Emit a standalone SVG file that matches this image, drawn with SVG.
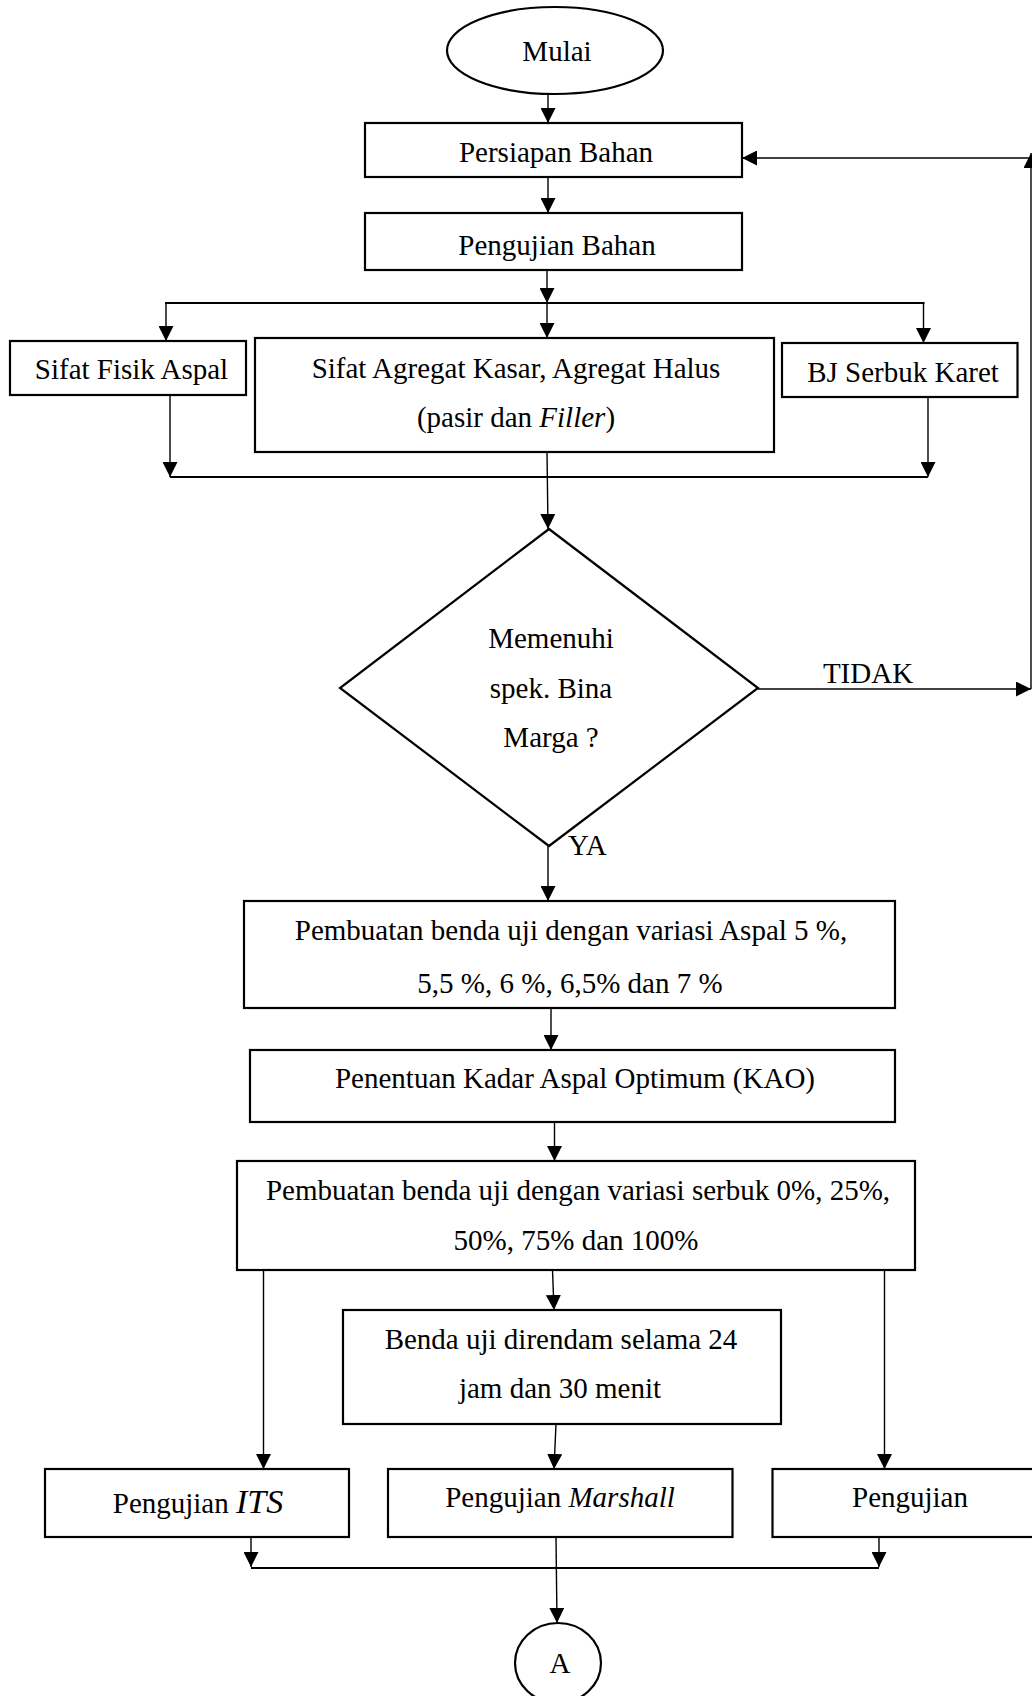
<svg xmlns="http://www.w3.org/2000/svg" width="1032" height="1696" viewBox="0 0 1032 1696">
<defs>
<style>
.box{fill:#fff;stroke:#000;stroke-width:2.2}
.ln{fill:none;stroke:#000;stroke-width:1.4}
.t{font-family:"Liberation Serif","Times New Roman",serif;font-size:29px;fill:#000;text-anchor:middle}
.tl{font-family:"Liberation Serif","Times New Roman",serif;font-size:29px;fill:#000}
</style>
<marker id="ah" markerUnits="userSpaceOnUse" markerWidth="15" markerHeight="15" refX="15" refY="7.5" orient="auto" viewBox="0 0 15 15">
<path d="M0,0 L15,7.5 L0,15 z" fill="#000"/>
</marker>
</defs>
<rect width="1032" height="1696" fill="#fff"/>

<g id="connectors">
<line class="ln" x1="548" y1="94" x2="548" y2="123" marker-end="url(#ah)"/>
<line class="ln" x1="548" y1="177" x2="548" y2="213" marker-end="url(#ah)"/>
<line class="ln" x1="547" y1="270" x2="547" y2="303" marker-end="url(#ah)"/>
<line class="ln" x1="165" y1="303" x2="924.5" y2="303" style="stroke-width:2"/>
<line class="ln" x1="166" y1="303" x2="166" y2="341" marker-end="url(#ah)"/>
<line class="ln" x1="547" y1="303" x2="547" y2="338" marker-end="url(#ah)"/>
<line class="ln" x1="923.5" y1="303" x2="923.5" y2="343" marker-end="url(#ah)"/>
<line class="ln" x1="170" y1="395" x2="170" y2="477" marker-end="url(#ah)"/>
<line class="ln" x1="928" y1="397" x2="928" y2="477" marker-end="url(#ah)"/>
<line class="ln" x1="170" y1="477" x2="928" y2="477" style="stroke-width:2"/>
<line class="ln" x1="547" y1="452" x2="548" y2="529" marker-end="url(#ah)"/>
<line class="ln" x1="758" y1="689" x2="1031" y2="689" marker-end="url(#ah)"/>
<line class="ln" x1="1031" y1="689" x2="1031" y2="153" marker-end="url(#ah)"/>
<line class="ln" x1="1030" y1="158" x2="742" y2="158" marker-end="url(#ah)"/>
<line class="ln" x1="548" y1="846" x2="548" y2="901" marker-end="url(#ah)"/>
<line class="ln" x1="551" y1="1008" x2="551" y2="1050" marker-end="url(#ah)"/>
<line class="ln" x1="554.5" y1="1122" x2="554.5" y2="1161" marker-end="url(#ah)"/>
<line class="ln" x1="263.5" y1="1270" x2="263.5" y2="1469" marker-end="url(#ah)"/>
<line class="ln" x1="552.5" y1="1270" x2="554" y2="1310" marker-end="url(#ah)"/>
<line class="ln" x1="884.5" y1="1270" x2="884.5" y2="1469" marker-end="url(#ah)"/>
<line class="ln" x1="556" y1="1424" x2="554" y2="1469" marker-end="url(#ah)"/>
<line class="ln" x1="251" y1="1537" x2="251" y2="1567" marker-end="url(#ah)"/>
<line class="ln" x1="879" y1="1537" x2="879" y2="1567" marker-end="url(#ah)"/>
<line class="ln" x1="251" y1="1568" x2="879" y2="1568" style="stroke-width:2"/>
<line class="ln" x1="556" y1="1537" x2="557" y2="1623" marker-end="url(#ah)"/>
<text class="t" x="868" y="683">TIDAK</text>
<text class="tl" x="568" y="855">YA</text>
</g>

<g id="mulai">
<ellipse class="box" cx="555" cy="50.5" rx="108" ry="43.5"/>
<text class="t" x="557" y="61">Mulai</text>
</g>
<g id="persiapan">
<rect class="box" x="365" y="123" width="377" height="54"/>
<text class="t" x="556" y="162">Persiapan Bahan</text>
</g>
<g id="pengujian-bahan">
<rect class="box" x="365" y="213" width="377" height="57"/>
<text class="t" x="557" y="255">Pengujian Bahan</text>
</g>
<g id="sifat-fisik">
<rect class="box" x="10" y="341" width="236" height="54"/>
<text class="t" x="131.5" y="379">Sifat Fisik Aspal</text>
</g>
<g id="sifat-agregat">
<rect class="box" x="255" y="338" width="519" height="114"/>
<text class="t" x="516" y="378">Sifat Agregat Kasar, Agregat Halus</text>
<text class="t" x="516" y="427">(pasir dan <tspan font-style="italic">Filler</tspan>)</text>
</g>
<g id="bj-serbuk">
<rect class="box" x="782" y="343" width="235.5" height="54"/>
<text class="t" x="903" y="382">BJ Serbuk Karet</text>
</g>
<g id="memenuhi">
<polygon class="box" points="549,529 758,688 549,846 340,688"/>
<text class="t" x="551" y="648">Memenuhi</text>
<text class="t" x="551" y="698">spek. Bina</text>
<text class="t" x="551" y="747">Marga ?</text>
</g>
<g id="pembuatan-aspal">
<rect class="box" x="244" y="901" width="651" height="107"/>
<text class="t" x="571" y="940">Pembuatan benda uji dengan variasi Aspal 5 %,</text>
<text class="t" x="570" y="993">5,5 %, 6 %, 6,5% dan 7 %</text>
</g>
<g id="penentuan-kao">
<rect class="box" x="250" y="1050" width="645" height="72"/>
<text class="t" x="575" y="1088">Penentuan Kadar Aspal Optimum (KAO)</text>
</g>
<g id="pembuatan-serbuk">
<rect class="box" x="237" y="1161" width="678" height="109"/>
<text class="t" x="578" y="1200">Pembuatan benda uji dengan variasi serbuk 0%, 25%,</text>
<text class="t" x="576" y="1250">50%, 75% dan 100%</text>
</g>
<g id="direndam">
<rect class="box" x="343" y="1310" width="438" height="114"/>
<text class="t" x="561" y="1349">Benda uji direndam selama 24</text>
<text class="t" x="560" y="1398">jam dan 30 menit</text>
</g>
<g id="pengujian-its">
<rect class="box" x="45" y="1469" width="304" height="68"/>
<text class="t" x="198" y="1513">Pengujian <tspan font-style="italic" font-size="34">ITS</tspan></text>
</g>
<g id="pengujian-marshall">
<rect class="box" x="388" y="1469" width="344.5" height="68"/>
<text class="t" x="560" y="1507">Pengujian <tspan font-style="italic">Marshall</tspan></text>
</g>
<g id="pengujian">
<rect class="box" x="772.5" y="1469" width="270" height="68"/>
<text class="t" x="910" y="1507">Pengujian</text>
</g>
<g id="connector-a">
<ellipse class="box" cx="558" cy="1663" rx="43" ry="40"/>
<text class="t" x="560" y="1673">A</text>
</g>
</svg>
